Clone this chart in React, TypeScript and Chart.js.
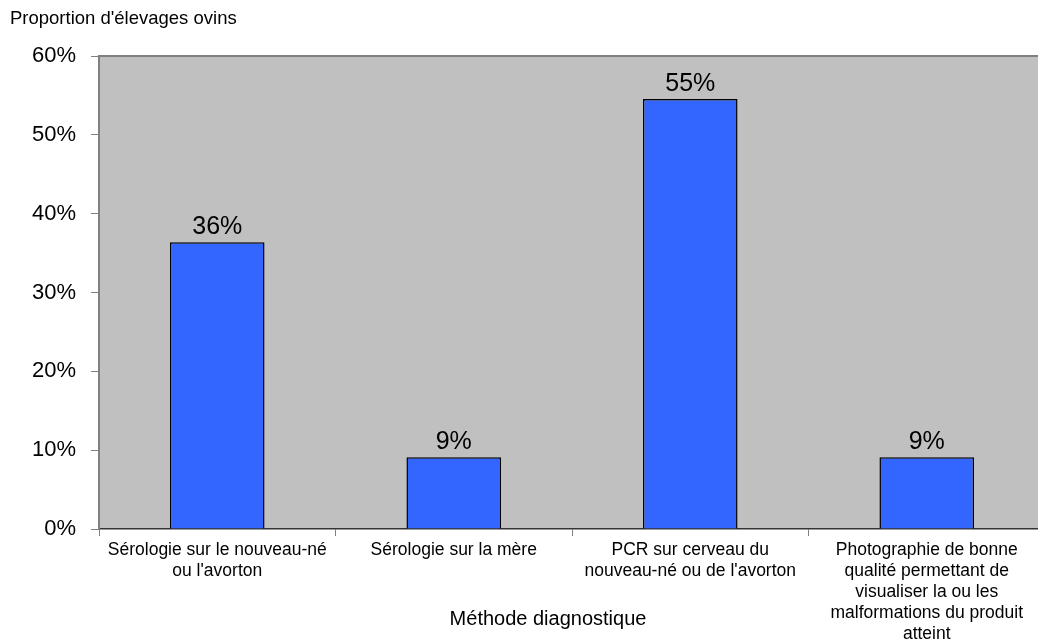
import React, { useEffect, useRef } from "react";
import { Chart, registerables } from "chart.js";

Chart.register(...registerables);

const categories: string[][] = [
  ["Sérologie sur le nouveau-né", "ou l'avorton"],
  ["Sérologie sur la mère"],
  ["PCR sur cerveau du", "nouveau-né ou de l'avorton"],
  ["Photographie de bonne", "qualité permettant de", "visualiser la ou les", "malformations du produit", "atteint"],
];
const values: number[] = [36.36, 9.09, 54.55, 9.09];
const yTicks: number[] = [0, 10, 20, 30, 40, 50, 60];
const yTitle = "Proportion d'élevages ovins";
const xTitle = "Méthode diagnostique";

const FONT = "'Liberation Sans', Arial, sans-serif";

const decorPlugin = {
  id: "decor",
  beforeDraw(chart: any) {
    const { ctx, chartArea } = chart;
    ctx.save();
    ctx.fillStyle = "#C0C0C0";
    ctx.fillRect(chartArea.left, chartArea.top, chartArea.right - chartArea.left, chartArea.bottom - chartArea.top);
    ctx.strokeStyle = "#808080";
    ctx.lineWidth = 2;
    ctx.beginPath();
    ctx.moveTo(chartArea.left, chartArea.top);
    ctx.lineTo(chartArea.right, chartArea.top);
    ctx.stroke();
    ctx.restore();
  },
  afterDraw(chart: any) {
    const { ctx } = chart;
    ctx.save();
    ctx.fillStyle = "#000";
    ctx.textBaseline = "middle";
    ctx.textAlign = "left";
    ctx.font = `18.5px ${FONT}`;
    ctx.fillText(yTitle, 10, 19);
    ctx.textAlign = "center";
    ctx.font = `20px ${FONT}`;
    ctx.fillText(xTitle, 548, 619);
    // value labels
    const meta = chart.getDatasetMeta(0);
    ctx.font = `25px ${FONT}`;
    ctx.textBaseline = "alphabetic";
    meta.data.forEach((bar: any, i: number) => {
      ctx.fillText(Math.round(values[i]) + "%", bar.x, bar.y - 8);
    });
    ctx.restore();
  },
};

export default function App() {
  const ref = useRef<HTMLCanvasElement>(null);
  useEffect(() => {
    if (!ref.current) return;
    const chart = new Chart(ref.current, {
      type: "bar",
      data: {
        labels: categories,
        datasets: [
          {
            data: values,
            backgroundColor: "#3366FF",
            borderColor: "#000000",
            borderWidth: 1.5,
            categoryPercentage: 1,
            barPercentage: 0.4,
          },
        ],
      },
      options: {
        responsive: false,
        animation: false,
        devicePixelRatio: 1,
        layout: { padding: { top: 56, right: 15, left: 0, bottom: 0 } },
        plugins: { legend: { display: false }, tooltip: { enabled: false }, title: { display: false } },
        scales: {
          x: {
            grid: { display: true, drawOnChartArea: false, drawTicks: true, tickLength: 7, color: "#808080", offset: true },
            border: { display: true, color: "#333333", width: 1.5 },
            ticks: {
              color: "#000",
              font: { family: FONT, size: 17.5, lineHeight: 1.2 },
              padding: 4,
              maxRotation: 0,
              autoSkip: false,
            },
            afterFit: (scale: any) => {
              scale.height = 110;
            },
          },
          y: {
            min: 0,
            max: 60,
            afterBuildTicks: (scale: any) => {
              scale.ticks = yTicks.map((v) => ({ value: v }));
            },
            grid: { display: true, drawOnChartArea: false, drawTicks: true, tickLength: 8, color: "#808080" },
            border: { display: true, color: "#808080", width: 2 },
            ticks: {
              color: "#000",
              font: { family: FONT, size: 22 },
              padding: 15,
              callback: (v: any) => v + "%",
            },
            afterFit: (scale: any) => {
              scale.width = 99;
            },
          },
        },
      },
      plugins: [decorPlugin],
    });
    return () => chart.destroy();
  }, []);
  return (
    <div style={{ position: "fixed", left: 0, top: 0, width: 1038, height: 639, overflow: "hidden", background: "#fff" }}>
      <canvas ref={ref} width={1060} height={639} style={{ width: 1060, height: 639, display: "block" }} />
    </div>
  );
}
